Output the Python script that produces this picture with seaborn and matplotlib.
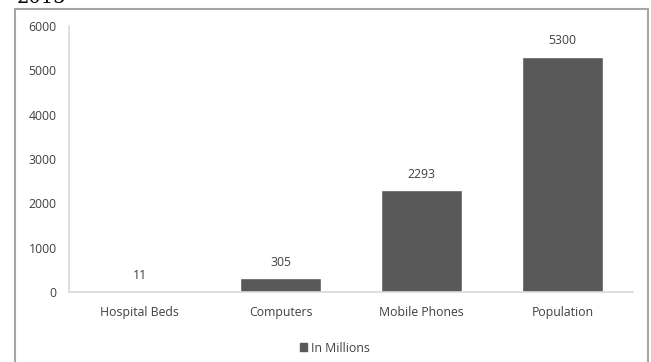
import matplotlib
matplotlib.use("Agg")
import matplotlib.pyplot as plt
import matplotlib.patches as mpatches
import seaborn as sns
import pandas as pd

# ── veri ─────────────────────────────────────────────────────────────────────
categories = ["Hospital Beds", "Computers", "Mobile Phones", "Population"]
values     = [11, 305, 2293, 5300]
y_ticks    = [0, 1000, 2000, 3000, 4000, 5000, 6000]
series_name = "In Millions"

BAR_CLR  = "#595959"
LBL_CLR  = "#404040"
AXIS_CLR = "#d9d9d9"
FS = 8.8

sns.set_theme(style="white")
plt.rcParams["font.family"] = ["Open Sans", "DejaVu Sans"]

df = pd.DataFrame({"cat": categories, "val": values})

W, H = 651, 362
fig = plt.figure(figsize=(W / 100, H / 100), dpi=100, facecolor="white")
ax = fig.add_axes([69 / W, 1 - 292 / H, (633 - 69) / W, (292 - 26) / H])

sns.barplot(data=df, x="cat", y="val", color=BAR_CLR, saturation=1,
            width=0.57, ax=ax)

for p, v in zip(ax.patches, values):
    ax.annotate(f"{v}", (p.get_x() + p.get_width() / 2, p.get_height()),
                xytext=(0, 7), textcoords="offset points",
                ha="center", va="bottom", fontsize=FS, color=LBL_CLR)

ax.set_ylim(0, 6000)
ax.set_xlim(-0.5, 3.5)
ax.set_yticks(y_ticks)
ax.set_xlabel("")
ax.set_ylabel("")
ax.tick_params(axis="y", length=0, pad=9, labelsize=FS, labelcolor=LBL_CLR)
ax.tick_params(axis="x", length=0, pad=10, labelsize=FS, labelcolor=LBL_CLR)
for s in ["top", "right"]:
    ax.spines[s].set_visible(False)
ax.spines["left"].set_color(AXIS_CLR)
ax.spines["bottom"].set_color(AXIS_CLR)
ax.spines["left"].set_linewidth(1.2)
ax.spines["bottom"].set_linewidth(1.2)

# legend
handle = mpatches.Patch(color=BAR_CLR, label=series_name)
fig.legend(handles=[handle], loc="center", bbox_to_anchor=(335 / W, 1 - 348 / H),
           frameon=False, fontsize=FS, handlelength=0.6, handleheight=0.6,
           handletextpad=0.3, labelcolor=LBL_CLR)

# cerceve
fig.patches.append(mpatches.Rectangle((15 / W, -0.05), (648 - 15) / W, 1.05 - 9 / H,
                                      transform=fig.transFigure, fill=False,
                                      edgecolor="#a6a6a6", linewidth=1.5))

# ust soldaki kesik baslik
fig.text(17 / W, 1 - 3 / H, "2015", family="DejaVu Serif", fontsize=14,
         ha="left", va="baseline", color="black")

fig.savefig("out.png", dpi=100)
